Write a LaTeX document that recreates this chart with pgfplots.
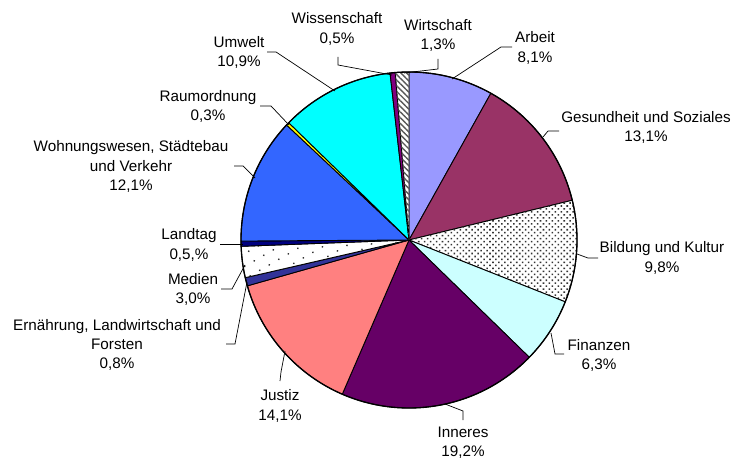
\documentclass[border=0pt]{standalone}
\usepackage{pgfplots}
\pgfplotsset{compat=1.18}
\usepackage{pgfplotstable}
\usepackage{fontspec}
\setmainfont{Liberation Sans}
\usetikzlibrary{patterns,patterns.meta}

\definecolor{cArbeit}{HTML}{9999FF}
\definecolor{cGes}{HTML}{993366}
\definecolor{cFin}{HTML}{CCFFFF}
\definecolor{cInn}{HTML}{660066}
\definecolor{cJus}{HTML}{FF8080}
\definecolor{cErn}{HTML}{333399}
\definecolor{cLand}{HTML}{000080}
\definecolor{cWohn}{HTML}{3366FF}
\definecolor{cRaum}{HTML}{FFFF00}
\definecolor{cUmw}{HTML}{00FFFF}
\definecolor{cWiss}{HTML}{800080}

\tikzset{
  plain/.style={},
  bild/.style={postaction={pattern={Dots[distance=4.2bp,radius=1.1bp,angle=45]},pattern color=black!80}},
  med/.style={postaction={pattern={Dots[distance=11bp,radius=1bp,angle=30]},pattern color=black!80}},
  wirt/.style={postaction={pattern={Lines[distance=4bp,angle=-45,line width=1.4bp]},pattern color=black!65}},
  lab/.style={font=\fontsize{15.3}{19.5}\selectfont, align=center, inner sep=0pt},
  ld/.style={line width=0.7bp},
}

% value, fill colour, pattern style (clockwise from 12 o'clock)
\pgfplotstableread{
v    c       p
8.1  cArbeit plain
13.1 cGes    plain
9.8  white   bild
6.3  cFin    plain
19.2 cInn    plain
14.1 cJus    plain
0.8  cErn    plain
3.0  white   med
0.5  cLand   plain
12.1 cWohn   plain
0.3  cRaum   plain
10.9 cUmw    plain
0.5  cWiss   plain
1.3  white   wirt
}\piedata

\begin{document}
\begin{tikzpicture}
\path (0,0) rectangle (734bp,457bp);
\begin{axis}[
  at={(0,0)}, anchor=south west,
  scale only axis, width=734bp, height=457bp,
  xmin=0, xmax=734, ymin=0, ymax=457, y dir=reverse,
  hide axis, clip=false,
]
\pgfplotstablegetrowsof{\piedata}
\pgfmathtruncatemacro\Nrows{\pgfplotsretval-1}
\def\cum{0}
\pgfplotsforeachungrouped \i in {0,...,\Nrows}{
  \pgfplotstablegetelem{\i}{v}\of\piedata \let\vv\pgfplotsretval
  \pgfplotstablegetelem{\i}{c}\of\piedata \let\cc\pgfplotsretval
  \pgfplotstablegetelem{\i}{p}\of\piedata \let\pp\pgfplotsretval
  \pgfmathsetmacro\angA{90-3.6*\cum}
  \pgfmathsetmacro\angB{90-3.6*(\cum+\vv)}
  \edef\temp{\noexpand\draw[line width=0.9bp, line join=round, fill=\cc, \pp] (axis cs:409,240) -- ++(\angA:168bp) arc[start angle=\angA, end angle=\angB, radius=168bp] -- cycle;}
  \temp
  \pgfmathsetmacro\cum{\cum+\vv}
}
\draw[line width=1.3bp] (axis cs:409,240) circle[radius=168bp];

% leader lines
\draw[ld] (axis cs:338,57) -- (axis cs:338,65) -- (axis cs:392,75);
\draw[ld] (axis cs:438,59) -- (axis cs:438,69) -- (axis cs:404,73);
\draw[ld] (axis cs:512,47) -- (axis cs:501,47) -- (axis cs:452,79);
\draw[ld] (axis cs:559,131) -- (axis cs:548,131) -- (axis cs:543,137);
\draw[ld] (axis cs:598,258) -- (axis cs:588,258) -- (axis cs:577,254);
\draw[ld] (axis cs:564,354) -- (axis cs:555,354) -- (axis cs:551,333);
\draw[ld] (axis cs:463,420) -- (axis cs:463,411) -- (axis cs:445,404);
\draw[ld] (axis cs:280,381) -- (axis cs:281,372) -- (axis cs:285,351);
\draw[ld] (axis cs:226,344) -- (axis cs:235,344) -- (axis cs:247,282);
\draw[ld] (axis cs:221,289) -- (axis cs:232,289) -- (axis cs:245,265);
\draw[ld] (axis cs:220,244) -- (axis cs:243,244);
\draw[ld] (axis cs:234,166) -- (axis cs:243,166) -- (axis cs:255,178);
\draw[ld] (axis cs:260,106) -- (axis cs:271,106) -- (axis cs:289,125);
\draw[ld] (axis cs:267,52) -- (axis cs:276,52) -- (axis cs:335,91);

% labels
\node[lab] at (axis cs:337,29) {Wissenschaft\\0,5\%};
\node[lab] at (axis cs:438,35.5) {Wirtschaft\\1,3\%};
\node[lab] at (axis cs:535,48) {Arbeit\\8,1\%};
\node[lab] at (axis cs:646,127.5) {Gesundheit und Soziales\\13,1\%};
\node[lab] at (axis cs:662,258) {Bildung und Kultur\\9,8\%};
\node[lab] at (axis cs:599,355.5) {Finanzen\\6,3\%};
\node[lab] at (axis cs:463,442.5) {Inneres\\19,2\%};
\node[lab] at (axis cs:280,406) {Justiz\\14,1\%};
\node[lab] at (axis cs:117,345) {Ernährung, Landwirtschaft und\\Forsten\\0,8\%};
\node[lab] at (axis cs:193,289.5) {Medien\\3,0\%};
\node[lab] at (axis cs:189,245) {Landtag\\0,5,\%};
\node[lab] at (axis cs:131,166.5) {Wohnungswesen, Städtebau\\und Verkehr\\12,1\%};
\node[lab] at (axis cs:208,106.5) {Raumordnung\\0,3\%};
\node[lab] at (axis cs:239,52.5) {Umwelt\\10,9\%};
\end{axis}
\end{tikzpicture}
\end{document}
